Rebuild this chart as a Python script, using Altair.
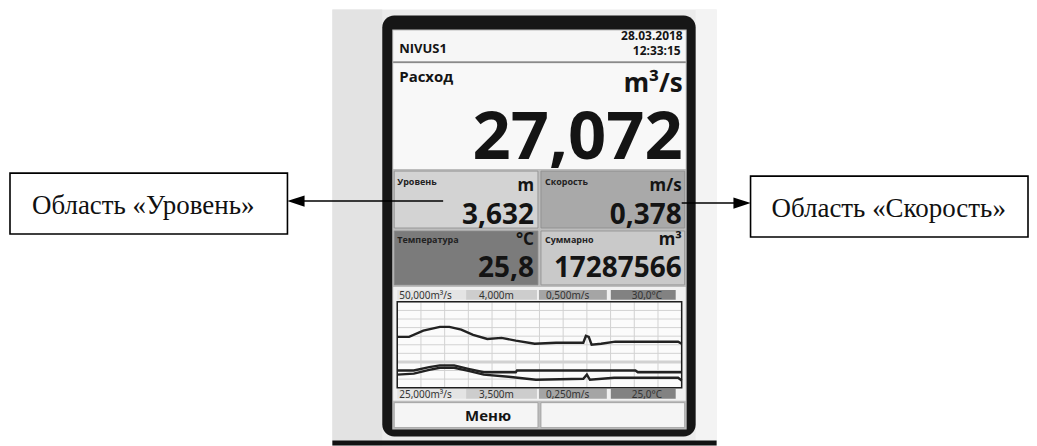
import altair as alt
import pandas as pd

# ---------------- values ----------------
device_name = "NIVUS1"
date_text = "28.03.2018"
time_text = "12:33:15"
main_label = "Расход"
main_unit = "m³/s"
main_value = "27,072"

cell_labels = ["Уровень", "Скорость", "Температура", "Суммарно"]
cell_units = ["m", "m/s", "°C", "m³"]
cell_values = ["3,632", "0,378", "25,8", "17287566"]

scale_top = ["50,000m³/s", "4,000m", "0,500m/s", "30,0°C"]
scale_bottom = ["25,000m³/s", "3,500m", "0,250m/s", "25,0°C"]
menu_labels = ["Меню", ""]
callouts = ["Область «Уровень»", "Область «Скорость»"]

# trend traces (x = minutes across the trend window)
speed_t = [0, 5, 11, 18, 22, 27, 32, 38, 44, 50, 58, 67, 78.5, 79.6, 80.8, 82, 86, 92, 118.5, 120]
speed_v = [0.398, 0.398, 0.416, 0.427, 0.427, 0.419, 0.404, 0.392, 0.395, 0.387,
           0.378, 0.381, 0.381, 0.401, 0.398, 0.375, 0.378, 0.384, 0.384, 0.378]
temp_t = [0, 7, 13.5, 18, 24, 30, 36.5, 50, 50.5, 100.5, 101.5, 120]
temp_v = [26.0, 26.0, 26.2, 26.3, 26.3, 26.1, 25.9, 25.9, 26.0, 26.0, 25.9, 25.9]
flow_t = [0, 7, 13.5, 18, 24, 30, 36.5, 47, 58.5, 78.5, 80, 81.3, 91.5, 118.5, 120]
flow_v = [28.8, 29.1, 30.2, 30.8, 30.8, 29.9, 28.8, 28.2, 27.3, 27.6, 28.8, 27.3, 27.9, 27.9, 27.1]

# trend scale limits (numeric form of the strip labels)
flow_lo, flow_hi = 25.0, 50.0
speed_lo, speed_hi = 0.25, 0.5
temp_lo, temp_hi = 25.0, 30.0

grid_t = [0, 10, 20, 30, 40, 50, 60, 70, 80, 90, 100, 110, 120]
grid_y = [0.0, 0.1, 0.2, 0.3, 0.4, 0.5, 0.6, 0.7, 0.8, 0.9, 1.0]

# ---------------- build tables ----------------
rows = []
for name, ts, vs, lo, hi in [("Скорость", speed_t, speed_v, speed_lo, speed_hi),
                             ("Температура", temp_t, temp_v, temp_lo, temp_hi),
                             ("Расход", flow_t, flow_v, flow_lo, flow_hi)]:
    for t, v in zip(ts, vs):
        rows.append({"series": name, "t": t, "v": v, "lo": lo, "hi": hi})
trend = pd.DataFrame(rows)
gx = pd.DataFrame({"t": grid_t})
gy = pd.DataFrame({"g": grid_y, "major": [g == 0.3 for g in grid_y]})

OFF = 8
one = pd.DataFrame({"k": [1]})

X0, X1, Y0, Y1 = 398, 683, 302, 388
xs = alt.Scale(domain=[0, 120], range=[X0 - OFF, X1 - OFF], nice=False, zero=False)
ys = alt.Scale(domain=[0, 1], range=[Y1 - OFF, Y0 - OFF], nice=False, zero=False)


def rect(x1, y1, x2, y2, fill, stroke=None, sw=0.0, r=0, opacity=None):
    kw = dict(fill=fill)
    if stroke:
        kw.update(stroke=stroke, strokeWidth=sw)
    if r:
        kw.update(cornerRadius=r)
    if opacity is not None:
        kw.update(fillOpacity=opacity)
    return alt.Chart(one).mark_rect(**kw).encode(
        x=alt.value(x1 - OFF), x2=alt.value(x2 - OFF),
        y=alt.value(y1 - OFF), y2=alt.value(y2 - OFF))


def hline(x1, x2, y, color="#000", w=1.5):
    return alt.Chart(one).mark_rule(color=color, strokeWidth=w).encode(
        x=alt.value(x1 - OFF), x2=alt.value(x2 - OFF), y=alt.value(y - OFF))


def txt(s, x, y, size, align="left", baseline="alphabetic", weight="bold",
        font="Open Sans", color="#141414"):
    return alt.Chart(one).mark_text(
        align=align, baseline=baseline, fontWeight=weight, font=font,
        fontSize=size, color=color).encode(
        x=alt.value(x - OFF), y=alt.value(y - OFF), text=alt.value(s))


def head(x, y, path):
    return alt.Chart(one).mark_point(shape=path, filled=True, color="#000",
                                     opacity=1, size=300).encode(
        x=alt.value(x - OFF), y=alt.value(y - OFF))


layers = []
# photograph background
layers += [rect(333, 9, 718, 446, "#ebebeb"),
           rect(333, 9, 383, 446, "#e3e3e3"),
           rect(697, 9, 718, 446, "#f3f3f3"),
           rect(333, 441, 718, 446, "#121212")]
# device body and screen
layers += [rect(383, 15, 697, 437, "#161616", r=12),
           rect(393, 29, 688, 430, "#bdbdbd"),
           rect(394, 30, 687, 61, "#f6f6f6"),
           rect(394, 63, 687, 169, "#f8f8f8"),
           hline(394, 687, 62, "#8a8a8a", 1.5)]
# value cells
cell_boxes = [(395, 171, 539, 228, "#d3d3d3"), (542, 171, 686, 228, "#a9a9a9"),
              (395, 231, 539, 285, "#7b7b7b"), (542, 231, 686, 285, "#c9c9c9")]
for (x1, y1, x2, y2, c) in cell_boxes:
    layers.append(rect(x1, y1, x2, y2, c, stroke="#8c8c8c", sw=0.8))
# trend area
layers.append(rect(394, 287, 687, 401, "#f1f1f1"))
strip_boxes = [(398, 467, "#e4e4e4"), (467, 538, "#cdcdcd"), (540, 608, "#a5a5a5"), (612, 677, "#828282")]
for (x1, x2, c) in strip_boxes:
    layers.append(rect(x1, 290, x2, 300, c))
    layers.append(rect(x1, 389, x2, 399, c))
layers.append(rect(X0, Y0, X1, Y1, "#fbfbfb"))

# grid + trend lines (through the data scales)
grid_v = alt.Chart(gx).mark_rule(color="#d2d2d2", strokeWidth=1).encode(
    x=alt.X("t:Q", scale=xs, axis=None), y=alt.value(Y0 - OFF), y2=alt.value(Y1 - OFF))
grid_h = alt.Chart(gy).mark_rule(color="#d2d2d2").encode(
    y=alt.Y("g:Q", scale=ys, axis=None), x=alt.value(X0 - OFF), x2=alt.value(X1 - OFF),
    strokeWidth=alt.condition("datum.major", alt.value(3), alt.value(1)))
lines = alt.Chart(trend).transform_calculate(
    norm="(datum.v - datum.lo) / (datum.hi - datum.lo)"
).mark_line(color="#222222", strokeWidth=2.4).encode(
    x=alt.X("t:Q", scale=xs, axis=None),
    y=alt.Y("norm:Q", scale=ys, axis=None),
    detail="series:N")
layers += [grid_v, grid_h, lines,
           rect(X0, Y0, X1, Y1, "#ffffff", stroke="#1e1e1e", sw=1.5, opacity=0)]

# menu buttons
layers += [rect(395, 403, 539, 428, "#f5f5f5", stroke="#9a9a9a", sw=0.8),
           rect(542, 403, 686, 428, "#f5f5f5", stroke="#9a9a9a", sw=0.8)]

# screen texts
UF = "Noto Sans"
layers += [txt(device_name, 400, 53, 13),
           txt(date_text, 684, 40, 12, align="right"),
           txt(time_text, 682, 55, 12, align="right"),
           txt(main_label, 400, 82, 15),
           txt(main_unit, 684, 92, 26, align="right", font=UF),
           txt(main_value, 684, 159, 67, align="right")]
cell_pos = [(398, 535, 185, 191, 224), (546, 683, 185, 191, 224),
            (398, 535, 243, 245, 277), (546, 683, 243, 245, 277)]
for i, (lx, rx, ly, uy, vy) in enumerate(cell_pos):
    layers += [txt(cell_labels[i], lx, ly, 9, color="#222"),
               txt(cell_units[i], rx, uy, 17, align="right", font=UF),
               txt(cell_values[i], rx, vy, 28, align="right")]
strip_x = [400, 480, 547, 633]
for i in range(4):
    layers.append(txt(scale_top[i], strip_x[i], 299, 10, weight="normal", color="#333", font=UF))
    layers.append(txt(scale_bottom[i], strip_x[i], 398, 10, weight="normal", color="#333", font=UF))
layers.append(txt(menu_labels[0], 466, 421, 15))

# callouts
layers += [rect(10, 173, 288, 234, "#ffffff", stroke="#000", sw=1.6),
           rect(752, 176, 1030, 237, "#ffffff", stroke="#000", sw=1.6),
           hline(300, 444, 201, "#000", 1.6),
           hline(683, 740, 203, "#000", 1.6),
           head(296.5, 201, "M-1,0L1,-0.65L1,0.65Z"),
           head(743.5, 203, "M1,0L-1,-0.65L-1,0.65Z"),
           txt(callouts[0], 32, 206, 27, baseline="middle", weight="normal",
               font="Liberation Serif", color="#111"),
           txt(callouts[1], 773, 209, 27, baseline="middle", weight="normal",
               font="Liberation Serif", color="#111")]

chart = alt.layer(*layers).properties(
    width=1021, height=430, padding=0, background="#ffffff"
).configure_view(stroke=None)

chart.save("out.html", embed_options={"renderer": "svg", "actions": False})
